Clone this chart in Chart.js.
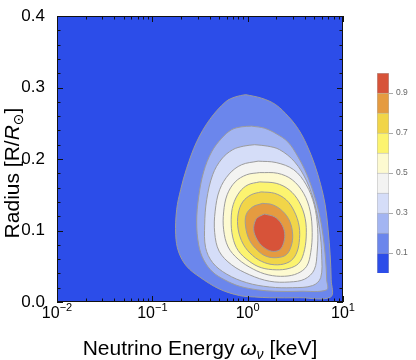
<!DOCTYPE html>
<html><head><meta charset="utf-8">
<script src="https://cdn.jsdelivr.net/npm/chart.js@4/dist/chart.umd.min.js"></script>
<style>html,body{margin:0;padding:0;background:#fff;}#wrap{position:relative;width:416px;height:360px;}canvas{position:absolute;left:0;top:0;}</style>
</head><body><div id="wrap"><canvas id="main" width="416" height="360"></canvas><canvas id="cbar" width="416" height="360"></canvas></div>
<script>
// contour levels and band colours (band i spans levels i*0.1 .. (i+1)*0.1)
const contourLevels = [0.1,0.2,0.3,0.4,0.5,0.6,0.7,0.8,0.9];
const bandColors = ['#2c4de9','#6b86ec','#a3b5f2','#d5ddf8','#f3f3f2','#fdfad0','#fcf46f','#f1d548','#e59b40','#d75339'];
const colorbarTicks = [0.1,0.3,0.5,0.7,0.9];
const xTickPowers = [-2,-1,0,1];
const yTicks = [0,0.1,0.2,0.3,0.4];

// contour outlines: log10(neutrino energy / keV) and radius (R/Rsun)
const c1LogE = [-0.021,0.147,0.294,0.430,0.535,0.619,0.703,0.766,0.813,0.844,0.865,0.876,0.871,0.545,0.231,0.073,-0.084,-0.294,-0.504,-0.640,-0.724,-0.755,-0.745,-0.703,-0.640,-0.535,-0.399,-0.231,-0.126];
const c1R    = [0.290,0.285,0.276,0.259,0.241,0.220,0.192,0.164,0.136,0.101,0.066,0.031,0.007,0.006,0.006,0.007,0.009,0.018,0.035,0.050,0.070,0.094,0.129,0.157,0.187,0.224,0.255,0.280,0.287];
const c2LogE = [0.042,0.178,0.304,0.420,0.524,0.619,0.692,0.750,0.792,0.818,0.829,0.829,0.545,0.283,0.105,-0.084,-0.241,-0.367,-0.462,-0.514,-0.535,-0.514,-0.462,-0.378,-0.273,-0.168,-0.063];
const c2R    = [0.246,0.243,0.235,0.224,0.204,0.179,0.152,0.124,0.092,0.059,0.031,0.017,0.015,0.015,0.017,0.022,0.031,0.042,0.059,0.080,0.112,0.147,0.182,0.210,0.229,0.241,0.245];
const c3LogE = [0.073,0.210,0.336,0.493,0.619,0.703,0.755,0.776,0.766,0.682,0.472,0.231,-0.010,-0.220,-0.367,-0.441,-0.451,-0.430,-0.367,-0.273,-0.157,-0.042];
const c3R    = [0.220,0.218,0.213,0.196,0.169,0.137,0.101,0.066,0.034,0.023,0.020,0.021,0.027,0.039,0.055,0.076,0.108,0.143,0.178,0.200,0.213,0.218];
const c4LogE = [0.110,0.299,0.483,0.614,0.698,0.734,0.729,0.698,0.598,0.441,0.231,0.021,-0.168,-0.299,-0.346,-0.341,-0.294,-0.194,-0.063];
const c4R    = [0.197,0.195,0.185,0.164,0.136,0.103,0.070,0.045,0.032,0.028,0.029,0.038,0.052,0.071,0.097,0.127,0.157,0.179,0.192];
const c5LogE = [0.126,0.315,0.467,0.587,0.656,0.677,0.661,0.619,0.524,0.388,0.215,0.058,-0.100,-0.205,-0.252,-0.252,-0.215,-0.131,-0.010];
const c5R    = [0.181,0.180,0.171,0.152,0.127,0.097,0.069,0.050,0.040,0.036,0.038,0.046,0.060,0.077,0.101,0.126,0.150,0.168,0.178];
const c6LogE = [0.126,0.299,0.435,0.540,0.603,0.614,0.587,0.535,0.435,0.299,0.142,0.016,-0.100,-0.157,-0.173,-0.152,-0.084,0.005];
const c6R    = [0.168,0.166,0.157,0.140,0.117,0.091,0.068,0.054,0.047,0.045,0.048,0.057,0.072,0.091,0.115,0.136,0.154,0.164];
const c7LogE = [0.142,0.283,0.404,0.488,0.540,0.540,0.504,0.435,0.315,0.178,0.052,-0.047,-0.100,-0.100,-0.052,0.037];
const c7R    = [0.154,0.152,0.143,0.127,0.106,0.083,0.066,0.056,0.052,0.055,0.065,0.081,0.102,0.123,0.140,0.150];
const c8LogE = [0.157,0.262,0.367,0.441,0.472,0.456,0.404,0.304,0.194,0.105,0.021,-0.021,-0.016,0.052];
const c8R    = [0.138,0.136,0.127,0.113,0.094,0.078,0.066,0.062,0.064,0.072,0.086,0.105,0.122,0.133];
const c9LogE = [0.178,0.283,0.351,0.388,0.378,0.336,0.252,0.163,0.100,0.063,0.084,0.126];
const c9R    = [0.123,0.119,0.110,0.097,0.083,0.073,0.071,0.077,0.087,0.101,0.115,0.120];

const contours = [[c1LogE,c1R],[c2LogE,c2R],[c3LogE,c3R],[c4LogE,c4R],[c5LogE,c5R],[c6LogE,c6R],[c7LogE,c7R],[c8LogE,c8R],[c9LogE,c9R]];
const FAM = '"Liberation Sans", Arial, Helvetica, sans-serif';

function toPoints(le, r){
  const pts = le.map((v,i)=>({x: Math.pow(10, v), y: r[i]}));
  pts.push({x: pts[0].x, y: pts[0].y});
  return pts;
}
// innermost first so that it is drawn on top
const datasets = [];
for (let k = contours.length - 1; k >= 0; k--) {
  datasets.push({
    label: 'level ' + contourLevels[k].toFixed(1),
    data: toPoints(contours[k][0], contours[k][1]),
    fill: 'shape',
    backgroundColor: bandColors[k+1],
    borderColor: '#9c9c9c',
    borderWidth: 1,
    pointRadius: 0,
    tension: 0.35
  });
}

const bgPlugin = {
  id: 'bg',
  beforeDatasetsDraw(chart){
    const {ctx, chartArea:a} = chart;
    ctx.save(); ctx.fillStyle = bandColors[0];
    ctx.fillRect(a.left, a.top, a.right - a.left, a.bottom - a.top);
    ctx.restore();
  }
};

function drawPieces(ctx, pieces, cx, baseY){
  let total = 0;
  for (const p of pieces){ ctx.font = p.f; p.w = ctx.measureText(p.t).width; total += p.w; }
  let x = cx - total/2;
  for (const p of pieces){ ctx.font = p.f; ctx.fillText(p.t, x, baseY + (p.dy||0)); x += p.w; }
}

const axesPlugin = {
  id: 'axesDeco',
  afterDraw(chart){
    const {ctx, chartArea:a, scales:{x, y}} = chart;
    ctx.save();
    ctx.strokeStyle = '#111'; ctx.lineWidth = 1;
    ctx.beginPath();
    // x ticks (log minor + major), bottom and top, inward
    const xv = [];
    for (const p of xTickPowers){ for (let m=1; m<=9; m++){ const v = m*Math.pow(10,p); if (v <= 10.0001) xv.push([v, m===1]); } }
    for (const [v, major] of xv){
      const px = Math.round(x.getPixelForValue(v)) + 0.5;
      const len = major ? 6 : 3.5;
      ctx.moveTo(px, a.bottom); ctx.lineTo(px, a.bottom - len);
      ctx.moveTo(px, a.top); ctx.lineTo(px, a.top + len);
    }
    for (let i = 0; i <= 20; i++){
      const v = i*0.02;
      const py = Math.round(y.getPixelForValue(v)) + 0.5;
      const len = (i % 5 === 0) ? 6 : 3.5;
      ctx.moveTo(a.left, py); ctx.lineTo(a.left + len, py);
      ctx.moveTo(a.right, py); ctx.lineTo(a.right - len, py);
    }
    ctx.stroke();
    ctx.strokeRect(a.left + 0.5, a.top + 0.5, a.right - a.left - 1, a.bottom - a.top - 1);
    // x tick labels 10^n
    ctx.fillStyle = '#000'; ctx.textBaseline = 'alphabetic'; ctx.textAlign = 'left';
    for (const p of xTickPowers){
      const px = x.getPixelForValue(Math.pow(10,p));
      const sup = p < 0 ? '\u2212' + (-p) : String(p);
      drawPieces(ctx, [{t:'10', f:'16px '+FAM}, {t:sup, f:'11px '+FAM, dy:-7}], px, 318);
    }
    // x title
    drawPieces(ctx, [
      {t:'Neutrino Energy ', f:'21px '+FAM},
      {t:'\u03c9', f:'italic 21px '+FAM},
      {t:'\u03bd', f:'italic 14px '+FAM, dy:4},
      {t:' [keV]', f:'21px '+FAM}
    ], (a.left + a.right)/2, 355);
    // y title (rotated)
    ctx.translate(18.5, 173); ctx.rotate(-Math.PI/2);
    drawPieces(ctx, [
      {t:'Radius [R/', f:'21px '+FAM},
      {t:'R', f:'italic 21px '+FAM},
      {t:'\u2299', f:'14px "DejaVu Sans", '+FAM, dy:4},
      {t:']', f:'21px '+FAM}
    ], 0, 0);
    ctx.restore();
  }
};

new Chart(document.getElementById('main'), {
  type: 'line',
  data: { datasets },
  options: {
    responsive: false, animation: false, devicePixelRatio: 1,
    layout: { padding: { top: 16, right: 73, left: 0, bottom: 0 } },
    plugins: { legend: {display:false}, tooltip: {enabled:false} },
    scales: {
      x: { type:'logarithmic', min:0.01, max:10, ticks:{display:false}, grid:{display:false}, border:{display:false},
           afterFit(s){ s.height = 58; } },
      y: { type:'linear', min:0, max:0.4, grid:{display:false}, border:{display:false},
           afterBuildTicks(s){ s.ticks = yTicks.map(v=>({value:v})); },
           ticks:{ callback:(v)=>Number(v).toFixed(1), color:'#000', font:{size:17, family:FAM}, padding:4 },
           afterFit(s){ s.width = 57; } }
    }
  },
  plugins: [bgPlugin, axesPlugin]
});

// colour bar legend
new Chart(document.getElementById('cbar'), {
  type: 'bar',
  data: { labels: [''], datasets: bandColors.map((c,i)=>({
    label: (i*0.1).toFixed(1), data:[0.1], backgroundColor:c, borderColor:'#b4b4b4', borderWidth:0.8,
    barPercentage:1, categoryPercentage:1, stack:'cb' })) },
  options: {
    responsive:false, animation:false, devicePixelRatio:1,
    layout: { padding: { left: 377, top: 73, bottom: 87, right: 0 } },
    plugins: { legend:{display:false}, tooltip:{enabled:false} },
    scales: {
      x: { display:false, stacked:true },
      y: { stacked:true, position:'right', min:0, max:1,
           afterBuildTicks(s){ s.ticks = colorbarTicks.map(v=>({value:v})); },
           ticks:{ callback:(v)=>Number(v).toFixed(1), color:'#666', font:{size:8.5, family:FAM}, padding:3 },
           grid:{ drawOnChartArea:false, tickLength:4, color:'#aaa' }, border:{display:false},
           afterFit(s){ s.width = 27; } }
    }
  }
});
</script></body></html>
